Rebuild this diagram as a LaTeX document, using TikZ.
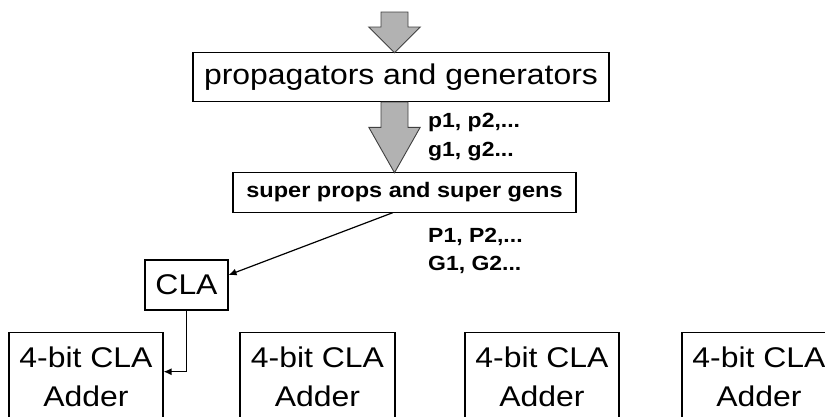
\documentclass[tikz,border=0pt]{standalone}
\usepackage{fontspec}
\setmainfont{Liberation Sans}[FakeStretch=1.12]
\usetikzlibrary{arrows.meta}
\begin{document}
\begin{tikzpicture}[x=1pt,y=-1pt,
  box/.style={draw=black, line width=1.1pt, rectangle, inner sep=0pt, align=center},
  bigtext/.style={font=\fontsize{28.5}{39}\selectfont},
  boldlabel/.style={font=\bfseries\fontsize{20.5}{24}\selectfont, anchor=base west, inner sep=0pt},
  blockarr/.style={fill=black!30, draw=black!75, line width=0.9pt, line join=miter},
  wire/.style={draw=black, line width=1.2pt, -{Latex[length=8pt,width=7pt]}}]
\useasboundingbox (0,0) rectangle (825,416);
\clip (0,0) rectangle (825,416);

% main blocks
\node[box, bigtext, minimum width=416pt, minimum height=49pt] (pg) at (401,77.2) {propagators and generators};
\node[box, font=\bfseries\fontsize{21}{24}\selectfont, minimum width=343pt, minimum height=39.3pt] (sp) at (404.5,192.4) {super props and super gens};
\node[box, bigtext, minimum width=83pt, minimum height=50pt] (cla) at (186.5,285) {CLA};

% four adders along the bottom
\node[box, bigtext, minimum width=154pt, minimum height=89pt] (a1) at (86,377.3) {4-bit CLA\\Adder};
\node[box, bigtext, minimum width=155pt, minimum height=89pt] (a2) at (317.5,377.3) {4-bit CLA\\Adder};
\node[box, bigtext, minimum width=154pt, minimum height=89pt] (a3) at (542,377.3) {4-bit CLA\\Adder};
\node[box, bigtext, minimum width=154pt, minimum height=89pt] (a4) at (759,377.3) {4-bit CLA\\Adder};

% wide block arrows
\draw[blockarr] (381,12) -- (408,12) -- (408,27) -- (420.2,27) -- (394.5,52.7)
  -- (368.8,27) -- (381,27) -- cycle;
\draw[blockarr] (381,102) -- (408,102) -- (408,127.3) -- (420.2,127.3) -- (394.5,172.7)
  -- (368.8,127.3) -- (381,127.3) -- cycle;

% signal labels
\node[boldlabel] (lp) at (428,127) {p1, p2,...};
\node[boldlabel] (lg) at (428,156) {g1, g2...};
\node[boldlabel] (lP) at (428,242.3) {P1, P2,...};
\node[boldlabel] (lG) at (428,270.3) {G1, G2...};

% connectors
\draw[wire] ([xshift=-11.5pt]sp.south) -- ([yshift=10pt]cla.east);
\draw[wire] (cla.south) |- ([yshift=5.6pt]a1.east);
\end{tikzpicture}
\end{document}
